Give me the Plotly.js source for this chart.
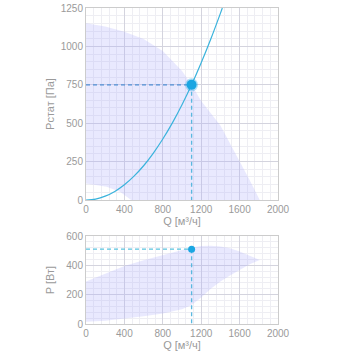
<!DOCTYPE html>
<html><head><meta charset="utf-8">
<script src="https://cdn.plot.ly/plotly-3.0.1.min.js"></script>
<style>html,body{margin:0;padding:0;background:#fff}#chart{width:356px;height:356px}</style>
</head><body><div id="chart"></div>
<script>
// Top chart: static pressure working area
const areaTopUpperQ = [0, 200, 400, 600, 800, 1000, 1100, 1200, 1400, 1600, 1700, 1810];
const areaTopUpperP = [1150, 1130, 1096, 1048, 970, 840, 750, 645, 485, 255, 135, 0];
const areaTopLowerQ = [0, 215, 354, 470];
const areaTopLowerP = [108, 87, 54, 0];
// System curve
const sysQ = [0, 100, 200, 300, 400, 500, 600, 700, 800, 900, 1000, 1100, 1200, 1300, 1400, 1420];
const sysP = [0, 6, 25, 56, 99, 155, 223, 304, 397, 502, 620, 750, 893, 1048, 1215, 1250];
// Operating point
const opQ = 1100;
const opP = 750;
const opPower = 510;
// Bottom chart: power working area
const areaBotUpperQ = [0, 200, 400, 600, 800, 1000, 1100, 1200, 1300, 1400, 1500, 1600, 1700, 1810];
const areaBotUpperW = [290, 345, 395, 435, 470, 505, 522, 532, 534, 528, 516, 495, 468, 436];
const areaBotLowerQ = [0, 200, 400, 600, 800, 1000, 1100, 1200, 1300, 1400, 1500, 1600, 1700, 1810];
const areaBotLowerW = [15, 22, 35, 52, 72, 100, 130, 180, 240, 290, 330, 370, 405, 436];
// Tick labels
const xTicks = [0, 400, 800, 1200, 1600, 2000];
const yTopTicks = [0, 250, 500, 750, 1000, 1250];
const yBotTicks = [0, 200, 400, 600];

function poly(uq, up, lq, lp) {
  const x = uq.slice(), y = up.slice();
  for (let i = lq.length - 1; i >= 0; i--) { x.push(lq[i]); y.push(lp[i]); }
  return {x, y};
}
const pTop = poly(areaTopUpperQ, areaTopUpperP, areaTopLowerQ, areaTopLowerP);
const pBot = poly(areaBotUpperQ, areaBotUpperW, areaBotLowerQ, areaBotLowerW);

const fillCol = 'rgba(175,175,250,0.27)';
const lineCol = '#3ab3dc';
const ptCol = '#1aa6e2';
const dsh = '4px,3px';

const traces = [
  {x: pTop.x, y: pTop.y, xaxis: 'x', yaxis: 'y', mode: 'lines', fill: 'toself', fillcolor: fillCol, line: {width: 0}, hoverinfo: 'skip'},
  {x: pBot.x, y: pBot.y, xaxis: 'x2', yaxis: 'y2', mode: 'lines', fill: 'toself', fillcolor: fillCol, line: {width: 0}, hoverinfo: 'skip'},
  {x: sysQ, y: sysP, xaxis: 'x', yaxis: 'y', mode: 'lines', line: {color: lineCol, width: 1.2, shape: 'spline'}},
  {x: [0, opQ], y: [opP, opP], xaxis: 'x', yaxis: 'y', mode: 'lines', line: {color: '#5090d4', width: 1.3, dash: dsh}},
  {x: [opQ, opQ], y: [opP, 0], xaxis: 'x', yaxis: 'y', mode: 'lines', line: {color: '#5ab8e0', width: 1.3, dash: dsh}},
  {x: [0, opQ], y: [opPower, opPower], xaxis: 'x2', yaxis: 'y2', mode: 'lines', line: {color: '#5ac4e0', width: 1.3, dash: dsh}},
  {x: [opQ, opQ], y: [opPower, 0], xaxis: 'x2', yaxis: 'y2', mode: 'lines', line: {color: '#5ab8e0', width: 1.3, dash: dsh}},
  {x: [opQ], y: [opP], xaxis: 'x', yaxis: 'y', mode: 'markers', marker: {size: 10, color: ptCol, line: {color: 'rgba(26,166,226,0.35)', width: 3}}},
  {x: [opQ], y: [opPower], xaxis: 'x2', yaxis: 'y2', mode: 'markers', marker: {size: 7, color: ptCol}}
];

const tickFont = {family: 'Liberation Sans, Arial, sans-serif', size: 10, color: '#9a9a9a'};
const titleFont = {family: 'Liberation Sans, Arial, sans-serif', size: 11, color: '#9a9a9a'};
const xd = [86/356, 278/356];
function xax(anchor) {
  return {domain: xd, anchor: anchor, range: [0, 2000], tickvals: xTicks, ticktext: xTicks.map(String),
    showgrid: true, gridcolor: '#d4d4de', gridwidth: 1, zeroline: false,
    showline: true, linecolor: '#ccc', linewidth: 1, mirror: true, ticks: '', ticklen: 0,
    tickfont: tickFont, title: {text: 'Q [м³/ч]', font: titleFont, standoff: 2},
    minor: {dtick: 80, showgrid: true, gridcolor: '#eeeef3', gridwidth: 1}};
}
const layout = {
  width: 356, height: 356, margin: {l: 0, r: 0, t: 0, b: 0},
  paper_bgcolor: '#fff', plot_bgcolor: '#fff', showlegend: false,
  xaxis: xax('y'),
  xaxis2: xax('y2'),
  yaxis: {domain: [1 - 200/356, 1 - 8/356], anchor: 'x', range: [0, 1250], tickvals: yTopTicks, ticktext: yTopTicks.map(String),
    showgrid: true, gridcolor: '#d4d4de', zeroline: false, showline: true, linecolor: '#ccc', mirror: true,
    tickfont: tickFont, title: {text: 'Pстат [Па]', font: titleFont},
    minor: {dtick: 50, showgrid: true, gridcolor: '#eeeef3'}},
  yaxis2: {domain: [1 - 324/356, 1 - 236/356], anchor: 'x2', range: [0, 600], tickvals: yBotTicks, ticktext: yBotTicks.map(String),
    showgrid: true, gridcolor: '#d4d4de', zeroline: false, showline: true, linecolor: '#ccc', mirror: true,
    tickfont: tickFont, title: {text: 'P [Вт]', font: titleFont},
    minor: {dtick: 40, showgrid: true, gridcolor: '#eeeef3'}}
};
Plotly.newPlot('chart', traces, layout, {staticPlot: true});
</script></body></html>
